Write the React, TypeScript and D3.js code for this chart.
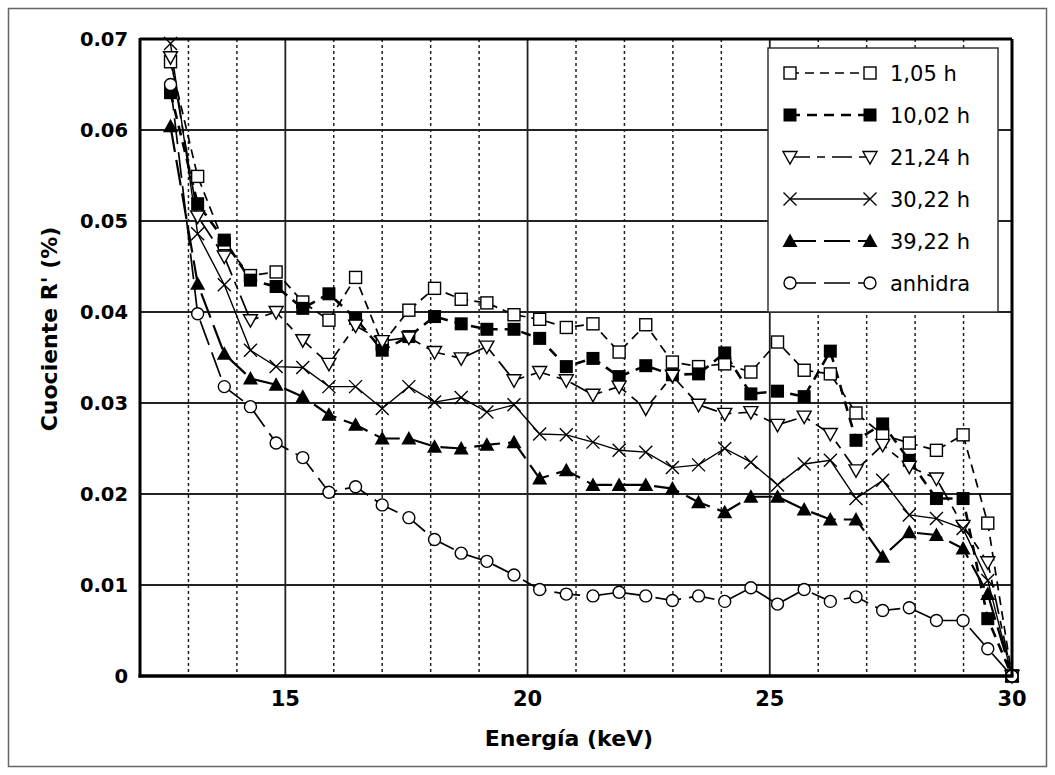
import React from "react";
import * as d3 from "d3";

// energía (keV) de cada punto medido
const energies = [
  12.63, 13.19, 13.74, 14.28, 14.81, 15.36, 15.9, 16.45, 17.0, 17.55, 18.08,
  18.63, 19.16, 19.72, 20.25, 20.8, 21.35, 21.89, 22.44, 22.99, 23.53, 24.07,
  24.61, 25.16, 25.71, 26.25, 26.78, 27.33, 27.88, 28.44, 28.99, 29.5, 30.0,
];

const h105 = [
  0.0675, 0.0549, 0.0475, 0.044, 0.0444, 0.0411, 0.0391, 0.0438, 0.0365, 0.0402,
  0.0426, 0.0414, 0.041, 0.0397, 0.0392, 0.0383, 0.0387, 0.0356, 0.0386, 0.0345,
  0.034, 0.0343, 0.0334, 0.0367, 0.0336, 0.0332, 0.0289, 0.0265, 0.0256, 0.0248,
  0.0265, 0.0168, 0,
];
const h1002 = [
  0.0641, 0.0519, 0.0479, 0.0435, 0.0428, 0.0404, 0.042, 0.0393, 0.0358, 0.0373,
  0.0395, 0.0387, 0.0381, 0.0381, 0.0371, 0.034, 0.0349, 0.0329, 0.0341, 0.0331,
  0.0332, 0.0355, 0.031, 0.0313, 0.0307, 0.0357, 0.0259, 0.0277, 0.0237, 0.0195,
  0.0195, 0.0063, 0,
];
const h2124 = [
  0.068, 0.0505, 0.0461, 0.0391, 0.04, 0.0369, 0.0343, 0.0385, 0.0368, 0.0372,
  0.0356, 0.0349, 0.0362, 0.0325, 0.0334, 0.0325, 0.0309, 0.0318, 0.0294, 0.033,
  0.0298, 0.0288, 0.029, 0.0276, 0.0285, 0.0266, 0.0226, 0.0254, 0.023, 0.0217,
  0.0165, 0.0125, 0,
];
const h3022 = [
  0.0695, 0.0486, 0.043, 0.0358, 0.034, 0.0339, 0.0318, 0.0318, 0.0294, 0.0318,
  0.0301, 0.0306, 0.029, 0.0298, 0.0266, 0.0265, 0.0257, 0.0248, 0.0246, 0.0229,
  0.0232, 0.025, 0.0235, 0.021, 0.0233, 0.0237, 0.0195, 0.0215, 0.0177, 0.0173,
  0.0162, 0.0105, 0,
];
const h3922 = [
  0.0604, 0.0431, 0.0354, 0.0327, 0.032, 0.0307, 0.0287, 0.0276, 0.0261, 0.0261,
  0.0252, 0.025, 0.0254, 0.0257, 0.0217, 0.0226, 0.021, 0.021, 0.021, 0.0206,
  0.0191, 0.018, 0.0197, 0.0197, 0.0183, 0.0172, 0.0172, 0.0131, 0.0158, 0.0155,
  0.014, 0.009, 0,
];
const anhidra = [
  0.065, 0.0398, 0.0318, 0.0296, 0.0256, 0.024, 0.0202, 0.0208, 0.0188, 0.0174,
  0.015, 0.0135, 0.0126, 0.0111, 0.0095, 0.009, 0.0088, 0.0092, 0.0088, 0.0083,
  0.0088, 0.0082, 0.0097, 0.0079, 0.0095, 0.0082, 0.0087, 0.0072, 0.0075, 0.0061,
  0.0061, 0.003, 0,
];

const seriesNames = ["1,05 h", "10,02 h", "21,24 h", "30,22 h", "39,22 h", "anhidra"];
const seriesValues = [h105, h1002, h2124, h3022, h3922, anhidra];
const yTicks = [0, 0.01, 0.02, 0.03, 0.04, 0.05, 0.06, 0.07];
const xLabels = [15, 20, 25, 30];
const xGrid = [13, 14, 15, 16, 17, 18, 19, 20, 21, 22, 23, 24, 25, 26, 27, 28, 29];

type Style = { marker: string; dash: string; width: number };
const styles: Style[] = [
  { marker: "squareOpen", dash: "9,6", width: 1.7 },
  { marker: "squareFilled", dash: "10,7", width: 2.6 },
  { marker: "triOpen", dash: "20,7,8,7", width: 1.7 },
  { marker: "cross", dash: "none", width: 1.4 },
  { marker: "triFilled", dash: "26,8", width: 2.2 },
  { marker: "circle", dash: "26,8", width: 1.7 },
];

const W = 1055;
const H = 775;
const left = 140;
const right = 1012;
const top = 39;
const bottom = 676;
const font = "'DejaVu Sans', Verdana, sans-serif";

function Marker({ kind, x, y }: { kind: string; x: number; y: number }) {
  const s = 6;
  switch (kind) {
    case "squareOpen":
      return <rect x={x - s} y={y - s} width={2 * s} height={2 * s} fill="#fff" stroke="#000" strokeWidth={1.4} />;
    case "squareFilled":
      return <rect x={x - 6.5} y={y - 6.5} width={13} height={13} fill="#000" />;
    case "triOpen":
      return (
        <path
          d={`M${x - 7},${y - 5.5} L${x + 7},${y - 5.5} L${x},${y + 7} Z`}
          fill="#fff"
          stroke="#000"
          strokeWidth={1.4}
        />
      );
    case "cross":
      return (
        <path
          d={`M${x - 6.5},${y - 6.5} L${x + 6.5},${y + 6.5} M${x - 6.5},${y + 6.5} L${x + 6.5},${y - 6.5}`}
          stroke="#000"
          strokeWidth={1.4}
        />
      );
    case "triFilled":
      return <path d={`M${x - 7.5},${y + 6} L${x + 7.5},${y + 6} L${x},${y - 7.5} Z`} fill="#000" />;
    default:
      return <circle cx={x} cy={y} r={6} fill="#fff" stroke="#000" strokeWidth={1.4} />;
  }
}

export default function App() {
  const x = d3.scaleLinear().domain([12, 30]).range([left, right]);
  const y = d3.scaleLinear().domain([0, 0.07]).range([bottom, top]);
  const line = d3
    .line<number>()
    .x((_, i) => x(energies[i]))
    .y((d) => y(d));

  const legX = 768;
  const legY = 48;
  const rowH = 42;

  return (
    <svg
      width={W}
      height={H}
      style={{ position: "absolute", left: 0, top: 0, background: "#fff" }}
      fontFamily={font}
    >
      <rect x={8.5} y={8.5} width={W - 17} height={H - 17} fill="#fff" stroke="#666" strokeWidth={1.5} />

      {/* gridlines */}
      {xGrid.map((g) => (
        <line
          key={"xg" + g}
          x1={x(g)}
          x2={x(g)}
          y1={top}
          y2={bottom}
          stroke="#222"
          strokeWidth={g % 5 === 0 ? 1.8 : 1.5}
          strokeDasharray={g % 5 === 0 ? "none" : "3,3"}
        />
      ))}
      {yTicks.slice(1).map((t) => (
        <line key={"yg" + t} x1={left} x2={right} y1={y(t)} y2={y(t)} stroke="#222" strokeWidth={1.8} />
      ))}

      {/* series */}
      {seriesValues.map((vals, si) => (
        <path
          key={"l" + si}
          d={line(vals) || ""}
          fill="none"
          stroke="#000"
          strokeWidth={styles[si].width}
          strokeDasharray={styles[si].dash}
        />
      ))}
      {seriesValues.map((vals, si) => (
        <g key={"m" + si}>
          {vals.map((v, i) => (
            <Marker key={i} kind={styles[si].marker} x={x(energies[i])} y={y(v)} />
          ))}
        </g>
      ))}

      {/* plot frame */}
      <line x1={left} x2={right} y1={top} y2={top} stroke="#000" strokeWidth={2.8} />
      <line x1={right} x2={right} y1={top} y2={bottom} stroke="#000" strokeWidth={3} />
      <line x1={left} x2={left} y1={top - 1} y2={bottom + 1.5} stroke="#000" strokeWidth={3} />
      <line x1={left - 1.5} x2={right + 1.5} y1={bottom} y2={bottom} stroke="#000" strokeWidth={3.5} />

      {/* y tick labels */}
      {yTicks.map((t) => (
        <text
          key={"yt" + t}
          x={128}
          y={y(t)}
          dy="0.36em"
          textAnchor="end"
          fontSize={19.5}
          fontWeight="bold"
        >
          {t === 0 ? "0" : d3.format(".2f")(t)}
        </text>
      ))}
      {/* x tick labels */}
      {xLabels.map((t) => (
        <text key={"xt" + t} x={x(t)} y={706} textAnchor="middle" fontSize={21} fontWeight="bold">
          {t}
        </text>
      ))}

      <text x={569} y={746} textAnchor="middle" fontSize={22} fontWeight="bold">
        Energía (keV)
      </text>
      <text transform={`translate(57,329) rotate(-90)`} textAnchor="middle" fontSize={22} fontWeight="bold">
        Cuociente R' (%)
      </text>

      {/* legend */}
      <rect x={legX} y={legY} width={230} height={264} fill="#fff" stroke="#333" strokeWidth={1.5} />
      {seriesNames.map((name, si) => {
        const cy = legY + 25 + si * rowH;
        return (
          <g key={"lg" + si}>
            <line
              x1={790}
              x2={870}
              y1={cy}
              y2={cy}
              stroke="#000"
              strokeWidth={styles[si].width}
              strokeDasharray={styles[si].dash}
            />
            <Marker kind={styles[si].marker} x={790} y={cy} />
            <Marker kind={styles[si].marker} x={870} y={cy} />
            <text x={890} y={cy} dy="0.36em" fontSize={21}>
              {name}
            </text>
          </g>
        );
      })}
    </svg>
  );
}
